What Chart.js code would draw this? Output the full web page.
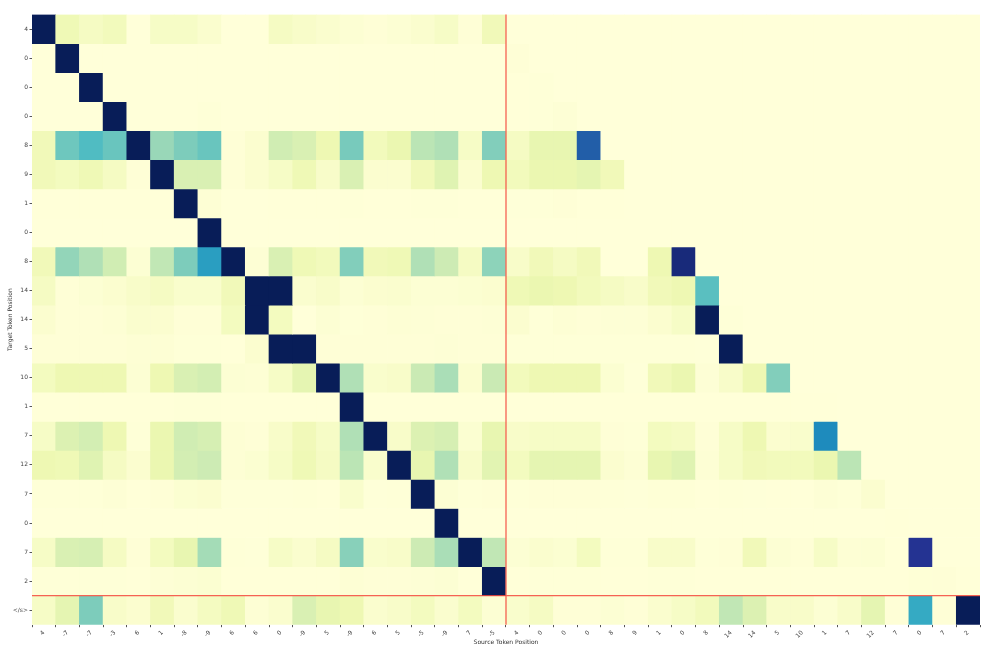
<!DOCTYPE html>
<html>
<head>
<meta charset="utf-8">
<title>Attention heatmap</title>
<script src="https://cdn.jsdelivr.net/npm/chart.js@4/dist/chart.umd.min.js"></script>
<style>
html, body { margin: 0; padding: 0; background: #fff; }
#heatmap { display: block; filter: blur(0.45px); }
</style>
</head>
<body>
<canvas id="heatmap" width="997" height="652"></canvas>
<script>
var sourceLabels = ['4','-7','-7','-3','6','1','-8','-9','6','6','0','-9','5','-9','6','5','-5','-9','7','-5',
                    '4','0','0','0','8','9','1','0','8','14','14','5','10','1','7','12','7','0','7','2'];
var targetLabels = ['4','0','0','0','8','9','1','0','8','14','14','5','10','1','7','12','7','0','7','2','</s>'];

// one list per target row, trailing zeros left out
var row0 = [1,.11,.07,.09,0,.06,.06,.035,0,0,.07,.05,.035,.02,.01,.02,.035,.06,.01,.10];
var row1 = [0,1,0,0,0,0,0,0,0,0,0,0,0,0,0,0,0,0,0,0,.01];
var row2 = [0,0,1,0,0,0,0,0,0,0,0,0,0,0,0,0,0,0,0,0,.003,.005];
var row3 = [0,0,0,1,0,0,0,.005,0,0,0,0,0,0,0,0,0,0,0,0,.003,.005,.012];
var row4 = [.10,.41,.47,.42,1,.33,.38,.42,.01,.03,.22,.19,.12,.39,.09,.13,.27,.29,.06,.37,.07,.14,.14,.75];
var row5 = [.10,.08,.11,.07,.01,1,.19,.19,.01,.03,.06,.11,.05,.19,.03,.03,.10,.17,.03,.12,.09,.13,.13,.15,.10];
var row6 = [.003,.003,.003,.003,.003,.003,1,.015,0,0,.002,.002,.003,.007,.003,.003,.005,.006,.003,.003,.004,.005,.01,.003,.003];
var row7 = [0,0,0,0,0,0,0,1];
var row8 = [.10,.34,.29,.22,.02,.26,.38,.58,1,.015,.19,.11,.09,.37,.10,.11,.29,.23,.07,.35,.05,.10,.07,.10,0,0,.12,.93];
var row9 = [.07,.01,.02,.03,.05,.07,.04,.04,.10,1,1,.035,.05,.02,.03,.035,.02,.02,.025,.03,.11,.13,.12,.09,.07,.05,.10,.12,.45];
var row10 = [.03,.01,.01,.015,.035,.03,.01,.01,.08,1,.08,0,.02,.006,.01,.015,.012,.01,.01,.012,.03,.005,.015,.01,.012,.012,.03,.06,1,.005];
var row11 = [.01,.01,.01,.01,.015,.015,.006,.005,.002,.03,1,1,.01,.01,.01,.01,.01,.012,.01,.01,.005,.005,.005,.005,.005,.005,.005,.005,.004,1];
var row12 = [.08,.12,.12,.12,.02,.12,.19,.21,.02,.015,.06,.15,1,.29,.04,.05,.24,.30,.03,.24,.09,.12,.12,.12,.025,.004,.10,.13,.012,.05,.12,.37];
var row13 = [.003,.003,.003,.003,.003,.003,.005,.005,.002,.002,.002,.002,.002,1,.002,.002,.002,.002,.002,.002,.002,.002,.002,.002,.002,.002,.002,.002,.002,.002,.002,.002,.002,.002];
var row14 = [.06,.18,.21,.12,.006,.13,.22,.20,.015,.01,.05,.10,.06,.29,1,.05,.18,.20,.025,.14,.05,.06,.06,.06,.01,.006,.08,.07,.01,.06,.12,.03,.04,.64];
var row15 = [.12,.11,.17,.07,.03,.13,.21,.23,.015,.025,.06,.11,.07,.27,.04,1,.14,.29,.05,.16,.08,.15,.15,.15,.03,.015,.14,.17,.015,.06,.10,.09,.09,.13,.27];
var row16 = [.005,.005,.005,.012,.003,.01,.025,.03,.004,.004,.004,.005,.002,.04,.004,.006,1,.02,.006,.01,.006,.01,.01,.01,.006,.004,.008,.008,.002,.005,.004,.002,.002,.012,.006,.03];
var row17 = [0,0,0,0,0,0,0,0,0,0,0,0,0,0,0,0,0,1,0,0,0,0,0,0,0,0,0,0,0,0,0,0,0,0,0,0,.002];
var row18 = [.06,.19,.20,.07,.01,.08,.14,.31,.005,.004,.06,.035,.07,.36,.04,.05,.23,.30,1,.26,.02,.035,.025,.08,.005,.005,.05,.05,.005,.01,.10,.02,.01,.06,.015,.02,.003,.88];
var row19 = [.005,.005,.005,.006,.002,.012,.02,.025,.002,.002,.002,.002,.002,.015,.01,.01,.012,.02,.003,1,.003,.006,.006,.006,.002,.002,.005,.005,.002,.002,.002,.002,.002,.002,.002,.002,.002,.008,.01,.002];
var row20 = [.06,.15,.38,.05,.03,.10,.035,.075,.11,.015,.035,.19,.14,.12,.035,.05,.08,.035,.08,.02,.04,.07,.01,.01,.02,.01,.035,.06,.09,.26,.18,.05,.05,.02,.05,.15,.01,.54,.01,1];

var rows = [row0,row1,row2,row3,row4,row5,row6,row7,row8,row9,row10,row11,row12,row13,row14,row15,row16,row17,row18,row19,row20];

var ylGnBu = ['#ffffd9','#edf8b1','#c7e9b4','#7fcdbb','#41b6c4','#1d91c0','#225ea8','#253494','#081d58'];

function hexToRgb(h) {
    return [parseInt(h.substr(1,2),16), parseInt(h.substr(3,2),16), parseInt(h.substr(5,2),16)];
}

function cellColor(v) {
    var p = Math.min(v, 0.9999) * (ylGnBu.length - 1);
    var i = Math.floor(p);
    var a = hexToRgb(ylGnBu[i]), b = hexToRgb(ylGnBu[i + 1]), t = p - i;
    return 'rgb(' + [0,1,2].map(function (k) { return Math.round(a[k] + (b[k] - a[k]) * t); }).join(',') + ')';
}

var datasets = rows.map(function (row, r) {
    return {
        label: targetLabels[r],
        data: sourceLabels.map(function () { return [r, r + 1]; }),
        backgroundColor: sourceLabels.map(function (_, c) { return cellColor(row[c] || 0); }),
        borderWidth: 0,
        grouped: false,
        barPercentage: 1,
        categoryPercentage: 1
    };
});

// red lines between source/target sentence and the end token
var splitLines = {
    id: 'splitLines',
    afterDatasetsDraw: function (chart) {
        var ctx = chart.ctx, area = chart.chartArea;
        var x = chart.scales.x, y = chart.scales.y;
        var sx = x.getPixelForValue(20) - (x.getPixelForValue(1) - x.getPixelForValue(0)) / 2;
        var sy = y.getPixelForValue(20);
        ctx.save();
        ctx.strokeStyle = 'rgba(245,70,60,0.85)';
        ctx.lineWidth = 1.3;
        ctx.beginPath();
        ctx.moveTo(sx, area.top);
        ctx.lineTo(sx, area.bottom);
        ctx.moveTo(area.left, sy);
        ctx.lineTo(area.right, sy);
        ctx.stroke();
        ctx.restore();
    }
};

var tickFont = { family: 'DejaVu Sans', size: 6 };

new Chart(document.getElementById('heatmap'), {
    type: 'bar',
    data: { labels: sourceLabels, datasets: datasets },
    plugins: [splitLines],
    options: {
        responsive: false,
        animation: false,
        layout: { padding: { top: 14.5, right: 17, left: 0, bottom: 0 } },
        plugins: { legend: { display: false }, tooltip: { enabled: false } },
        scales: {
            x: {
                type: 'category',
                grid: { drawOnChartArea: false, tickLength: 2.5, tickColor: '#555', drawTicks: true },
                border: { display: false },
                title: { display: true, text: 'Source Token Position', color: '#333', font: tickFont, padding: { top: 3, bottom: 6 } },
                ticks: { autoSkip: false, minRotation: 45, maxRotation: 45, color: '#444', font: tickFont, padding: 2 },
                afterFit: function (scale) { scale.height = 27.3; }
            },
            y: {
                type: 'linear',
                reverse: true,
                min: 0,
                max: 21,
                afterBuildTicks: function (scale) {
                    scale.ticks = targetLabels.map(function (_, i) { return { value: i + 0.5 }; });
                },
                grid: { drawOnChartArea: false, tickLength: 2.5, tickColor: '#555', drawTicks: true },
                border: { display: false },
                title: { display: true, text: 'Target Token Position', color: '#333', font: tickFont, padding: { top: 7, bottom: 2 } },
                ticks: {
                    autoSkip: false,
                    color: '#444',
                    font: tickFont,
                    padding: 1.5,
                    callback: function (value) { return targetLabels[Math.floor(value)]; }
                },
                afterFit: function (scale) { scale.width = 32; }
            }
        }
    }
});
</script>
</body>
</html>
